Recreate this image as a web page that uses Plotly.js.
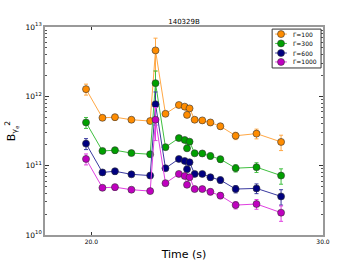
<!DOCTYPE html>
<html><head><meta charset="utf-8">
<script src="https://cdn.plot.ly/plotly-3.0.1.min.js"></script>
<style>html,body{margin:0;padding:0;background:#fff}#c{width:360px;height:270px}</style>
</head><body><div id="c"></div>
<script>
const times = [19.77,20.48,21.02,21.73,22.54,22.77,23.20,23.78,24.03,24.13,24.24,24.46,24.79,25.14,25.57,26.23,27.13,28.19];
const g100  = [1.27e12,4.9e11,5.0e11,4.6e11,4.4e11,4.6e12,5.6e11,7.5e11,7.1e11,5.4e11,6.7e11,4.6e11,4.5e11,4.2e11,3.7e11,2.7e11,2.9e11,2.2e11];
const g300  = [4.2e11,1.63e11,1.67e11,1.52e11,1.46e11,1.55e12,1.85e11,2.5e11,2.35e11,1.78e11,2.22e11,1.51e11,1.5e11,1.38e11,1.24e11,9.2e10,9.5e10,7.2e10];
const g600  = [2.08e11,8.0e10,8.3e10,7.5e10,7.2e10,7.7e11,9.2e10,1.25e11,1.17e11,8.9e10,1.12e11,7.6e10,7.6e10,6.8e10,6.2e10,4.6e10,4.7e10,3.6e10];
const g1000 = [1.25e11,4.8e10,4.9e10,4.5e10,4.3e10,4.6e11,5.6e10,7.6e10,7.1e10,5.3e10,6.8e10,4.6e10,4.6e10,4.2e10,3.7e10,2.7e10,2.8e10,2.1e10];
const errFrac = [0.18,0.08,0.1,0.08,0.08,0.5,0.08,0.08,0.08,0.08,0.08,0.08,0.08,0.1,0.1,0.12,0.16,0.25];
const names = ['Γ=100','Γ=300','Γ=600','Γ=1000'];
const seriesVals = [g100,g300,g600,g1000];
const markerColors = ['#FF8C00','#00A000','#000080','#C000C0'];
const lineColors = ['#FFA845','#40C040','#3A3AA0','#E040E0'];

const traces = seriesVals.map((vals,i)=>({
  x: times, y: vals, name: names[i], type:'scatter', mode:'lines+markers',
  line:{color:lineColors[i], width:1},
  marker:{color:markerColors[i], size:7, line:{color:'#333', width:0.6}},
  error_y:{type:'data', array: vals.map((v,j)=>v*errFrac[j]), color:lineColors[i], thickness:1, width:2}
}));

// custom compact legend (plotly's built-in legend rows are too tall)
const shapes = [{type:'rect', xref:'paper', yref:'paper', x0:0.817, x1:0.993, y0:0.803, y1:0.99,
  line:{color:'#333', width:1}, fillcolor:'#fff', layer:'above'}];
const annotations = [];
const rowY = [0.985-0.038, 0.947-0.045, 0.902-0.045, 0.857-0.045];
names.forEach((n,i)=>{
  const yy = [0.966, 0.921, 0.875, 0.832][i];
  shapes.push({type:'line', xref:'paper', yref:'paper', x0:0.828, x1:0.87, y0:yy, y1:yy, line:{color:lineColors[i], width:1}, layer:'above'});
  shapes.push({type:'circle', xref:'paper', yref:'paper', xsizemode:'pixel', ysizemode:'pixel', xanchor:0.849, yanchor:yy,
    x0:-3.5, x1:3.5, y0:-3.5, y1:3.5, fillcolor:markerColors[i], line:{color:'#333', width:0.6}, layer:'above'});
  annotations.push({xref:'paper', yref:'paper', x:0.885, y:yy, xanchor:'left', yanchor:'middle', showarrow:false,
    text:n, font:{size:6, color:'#000'}});
});

const layout = {
  width:360, height:270,
  margin:{l:45, r:37, t:27, b:35},
  paper_bgcolor:'#fff', plot_bgcolor:'#fff',
  font:{family:'DejaVu Sans', color:'#000'},
  title:{text:'140329B', font:{size:7}, x:0.5, xanchor:'center', xref:'paper', y:0.912, yanchor:'bottom', yref:'container'},
  showlegend:false,
  shapes: shapes, annotations: annotations,
  xaxis:{range:[18,30], tickvals:[20,30], ticktext:['20.0','30.0'], ticks:'inside', ticklen:3, tickcolor:'#333',
    showgrid:false, zeroline:false, showline:true, linecolor:'#999', linewidth:2, mirror:'ticks',
    tickfont:{size:6}, title:{text:'Time (s)', font:{size:11}, standoff:6}},
  yaxis:{type:'log', range:[10,13], dtick:1, exponentformat:'power', ticks:'inside', ticklen:4, tickcolor:'#333',
    minor:{ticks:'inside', ticklen:2, tickcolor:'#555', showgrid:false},
    showgrid:false, zeroline:false, showline:true, linecolor:'#999', linewidth:2, mirror:'ticks',
    tickfont:{size:6}, title:{text:'B<sub>γ<sub>e</sub></sub><sup>2</sup>', font:{size:11}, standoff:8}}
};
Plotly.newPlot('c', traces, layout, {staticPlot:true});
</script></body></html>
